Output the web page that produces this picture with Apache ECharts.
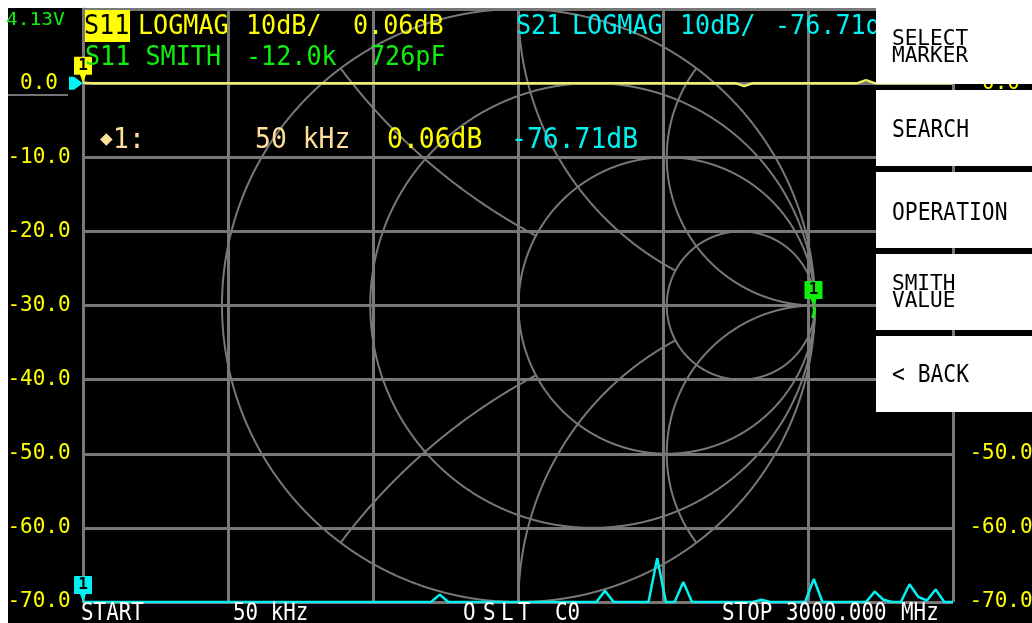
<!DOCTYPE html>
<html>
<head>
<meta charset="utf-8">
<script src="https://cdn.jsdelivr.net/npm/echarts@6/dist/echarts.min.js"></script>
<style>
  html, body { margin: 0; padding: 0; background: #fff; }
  #screen { position: absolute; left: 8px; top: 8px; width: 1024px; height: 615px; background: #000; }
  #chart { position: absolute; left: 0; top: 0; width: 1032px; height: 623px; }
</style>
</head>
<body>
<div id="screen"></div>
<div id="chart"></div>
<script>
// sweep settings
const startMHz = 0.05
const stopMHz = 3000
const points = 101

// S11 LOGMAG (dB), 101 points
const s11Log = [
  0.06, 0, 0, 0, 0, 0, 0, 0, 0, 0,
  0, 0, 0, 0, 0, 0, 0, 0, 0, 0,
  0, 0, 0, 0, 0, 0, 0, 0, 0, 0,
  0, 0, 0, 0, 0, 0, 0, 0, 0, 0,
  0, 0, 0, 0, 0, 0, 0, 0, 0, 0,
  0, 0, 0, 0, 0, 0, 0, 0, 0, 0,
  0, 0, 0, 0, 0, 0, 0, 0, 0, 0,
  0, 0, 0, 0, 0, 0, -0.4, 0, 0, 0,
  0, 0, 0, 0, 0, 0, 0, 0, 0, 0,
  0.4, 0, 0, 0, 0, 0, 0, 0, 0, 0,
  0
]

// S21 LOGMAG (dB) as shown on screen (floor of the graph is -70)
const s21Log = [
  -70, -70, -70, -70, -70, -70, -70, -70, -70, -70,
  -70, -70, -70, -70, -70, -70, -70, -70, -70, -70,
  -70, -70, -70, -70, -70, -70, -70, -70, -70, -70,
  -70, -70, -70, -70, -70, -70, -70, -70, -70, -70,
  -70, -69.0, -70, -70, -70, -70, -70, -70, -70, -70,
  -70, -70, -70, -70, -70, -70, -70, -70, -70, -70,
  -68.5, -70, -70, -70, -70, -70, -64.1, -70, -70, -67.3,
  -70, -70, -70, -70, -70, -70, -70, -70, -69.7, -70,
  -70, -70, -70, -70, -66.9, -70, -70, -70, -70, -70,
  -70, -68.6, -69.7, -70, -70, -67.6, -69.3, -69.8, -68.3, -70,
  -70
]

// S11 SMITH trace (reflection coefficient, re / im)
const s11Gamma = [[0.995, -0.005], [0.998, -0.015], [0.996, -0.028], [0.993, -0.038], [0.99, -0.042]]

// left / right scale labels, from -70 up to 0
const scaleLabels = ['-70.0', '-60.0', '-50.0', '-40.0', '-30.0', '-20.0', '-10.0', '0.0']

const freqs = []
for (let i = 0; i < points; i++) freqs.push(startMHz + i * (stopMHz - startMHz) / (points - 1))

const YEL = '#ffff00', CYAN = '#00f2f2', GRN = '#10ee10', PEACH = '#ffdf9a', GREY = '#787878'
const MONO = '"DejaVu Sans Mono", monospace'

// smith chart grid: circles clipped the same way the analyzer draws them
const smithCircles = [
  { r: 0 }, { r: 3 }, { x: 2 }, { x: -2 },
  { x: 1, clip: 3 }, { x: -1, clip: 3 }, { r: 1, clip: 3 },
  { x: 0.5, clip: 1 }, { x: -0.5, clip: 1 }, { r: 1 / 3, clip: 1 }
]
function rCircle(r) { return { cx: r / (1 + r), cy: 0, rad: 1 / (1 + r) } }
function xCircle(x) { return { cx: 1, cy: 1 / x, rad: 1 / Math.abs(x) } }
function insideR(px, py, r) {
  const c = rCircle(r)
  return Math.hypot(px - c.cx, py - c.cy) < c.rad - 0.003
}
const smithSegs = []
smithCircles.forEach(function (c) {
  const g = c.r !== undefined ? rCircle(c.r) : xCircle(c.x)
  let cur = []
  for (let k = 0; k <= 2880; k++) {
    const a = k / 2880 * Math.PI * 2
    const px = g.cx + g.rad * Math.cos(a), py = g.cy + g.rad * Math.sin(a)
    let keep = Math.hypot(px, py) <= 1.002
    if (keep && c.clip !== undefined && insideR(px, py, c.clip)) keep = false
    if (keep) cur.push([px, py])
    else { if (cur.length > 1) smithSegs.push({ coords: cur }); cur = [] }
  }
  if (cur.length > 1) smithSegs.push({ coords: cur })
})
smithSegs.push({ coords: [[-1, 0], [1, 0]] })

const markerPath = 'path://M1,0H17Q18,0 18,1V18H12L9,26L6,18H0V1Q0,0 1,0Z'
function marker(coord, color) {
  return {
    symbol: markerPath, symbolSize: [18, 26], symbolOffset: [0, '-50%'],
    itemStyle: { color: color },
    label: { show: true, formatter: '1', color: '#000', fontFamily: MONO, fontSize: 16, fontWeight: 'bold', offset: [0, -4] },
    data: [{ coord: coord }]
  }
}

function txt(x, y, s, color, size, sx) {
  return {
    type: 'text', x: x - 2, y: y, scaleX: sx || 1, z: 50,
    style: { text: s, fill: color, font: size + 'px ' + MONO, textAlign: 'left', textVerticalAlign: 'middle' }
  }
}
function button(y, h) {
  return { type: 'rect', shape: { x: 876, y: y, width: 156, height: h }, style: { fill: '#fff' }, z: 90 }
}
function btxt(y, s, size, sx) {
  const t = txt(894, y, s, '#000', size, sx)
  t.z = 91
  return t
}

const chart = echarts.init(document.getElementById('chart'), null, { renderer: 'canvas' })

const option = {
  backgroundColor: 'transparent',
  animation: false,
  grid: [
    { left: 83, top: 9, width: 870, height: 593, containLabel: false, outerBoundsMode: 'none' },
    { left: 222, top: 9, width: 593, height: 593, containLabel: false, outerBoundsMode: 'none' }
  ],
  xAxis: [
    { gridIndex: 0, type: 'value', min: 0, max: 6, interval: 1,
      axisLine: { show: false }, axisTick: { show: false }, axisLabel: { show: false },
      splitLine: { show: true, lineStyle: { color: GREY, width: 3 } } },
    { gridIndex: 0, type: 'value', min: startMHz, max: stopMHz, show: false },
    { gridIndex: 1, type: 'value', min: -1, max: 1, show: false }
  ],
  yAxis: [
    { gridIndex: 0, type: 'value', min: -70, max: 10, interval: 10, position: 'left',
      axisLine: { show: true, lineStyle: { color: GREY, width: 3 } }, axisTick: { show: false },
      splitLine: { show: true, lineStyle: { color: GREY, width: 3 } },
      axisLabel: { color: YEL, fontFamily: MONO, fontSize: 21, align: 'center', margin: 44,
        formatter: function (v) { return scaleLabels[Math.round((v + 70) / 10)] || '' } } },
    { gridIndex: 0, type: 'value', min: -70, max: 10, interval: 10, position: 'right',
      axisLine: { show: false }, axisTick: { show: false }, splitLine: { show: false },
      axisLabel: { color: YEL, fontFamily: MONO, fontSize: 21, align: 'center', margin: 48,
        formatter: function (v) { return scaleLabels[Math.round((v + 70) / 10)] || '' } } },
    { gridIndex: 1, type: 'value', min: -1, max: 1, show: false }
  ],
  series: [
    { type: 'lines', coordinateSystem: 'cartesian2d', xAxisIndex: 2, yAxisIndex: 2, polyline: true, silent: true,
      lineStyle: { color: GREY, width: 2, opacity: 1 }, data: smithSegs, z: 1 },
    { name: 'S11 SMITH', type: 'line', xAxisIndex: 2, yAxisIndex: 2, data: s11Gamma, showSymbol: false,
      lineStyle: { color: GRN, width: 3 }, markPoint: marker(s11Gamma[0], GRN), z: 4 },
    { name: 'S21', type: 'line', xAxisIndex: 1, yAxisIndex: 0,
      data: s21Log.map(function (v, i) { return [freqs[i], v] }), showSymbol: false,
      lineStyle: { color: CYAN, width: 2.5 },
      markPoint: {
        data: [
          Object.assign({ coord: [freqs[0], s21Log[0]] }, marker(null, CYAN), { data: undefined }),
          { coord: [freqs[0], 0], symbol: 'path://M0,0H5L14,7L5,14H0Z', symbolSize: [14, 13], symbolOffset: [-7, 0],
            itemStyle: { color: CYAN }, label: { show: false } }
        ]
      }, z: 3 },
    { name: 'S11', type: 'line', xAxisIndex: 1, yAxisIndex: 0,
      data: s11Log.map(function (v, i) { return [freqs[i], v] }), showSymbol: false,
      lineStyle: { color: '#f2f06a', width: 2.5 },
      markPoint: marker([freqs[0], s11Log[0]], YEL), z: 5 }
  ],
  graphic: [
    { type: 'line', shape: { x1: 8, y1: 95, x2: 68, y2: 95 }, style: { stroke: '#9a9a9a', lineWidth: 1.5 }, z: 50 },
    txt(8, 20.5, '4.13V', GRN, 17, 1.15),
    { type: 'rect', shape: { x: 85, y: 10, width: 45, height: 32 }, style: { fill: YEL }, z: 49 },
    txt(86, 26.5, 'S11', '#000', 27, 0.93),
    txt(140, 26.5, 'LOGMAG', YEL, 27, 0.93),
    txt(248, 26.5, '10dB/', YEL, 27, 0.93),
    txt(355, 26.5, '0.06dB', YEL, 27, 0.93),
    txt(518, 26.5, 'S21', CYAN, 27, 0.93),
    txt(574, 26.5, 'LOGMAG', CYAN, 27, 0.93),
    txt(682, 26.5, '10dB/', CYAN, 27, 0.93),
    txt(777, 26.5, '-76.71dB', CYAN, 27, 0.93),
    txt(87, 57.5, 'S11 SMITH', GRN, 27, 0.93),
    txt(248, 57.5, '-12.0k', GRN, 27, 0.93),
    txt(372, 57.5, '726pF', GRN, 27, 0.93),
    txt(102, 140, '\u25C6', PEACH, 21, 1),
    txt(115, 140, '1:', PEACH, 29, 0.91),
    txt(257, 140, '50 kHz', PEACH, 29, 0.91),
    txt(389, 140, '0.06dB', YEL, 29, 0.91),
    txt(513, 140, '-76.71dB', CYAN, 29, 0.91),
    txt(83, 614, 'START', '#fff', 24, 0.87),
    txt(235, 614, '50 kHz', '#fff', 24, 0.87),
    txt(465, 614, 'O', '#fff', 24, 0.87),
    txt(485, 614, 'S', '#fff', 24, 0.87),
    txt(503, 614, 'L', '#fff', 24, 0.87),
    txt(520, 614, 'T', '#fff', 24, 0.87),
    txt(557, 614, 'C0', '#fff', 24, 0.87),
    txt(724, 614, 'STOP', '#fff', 24, 0.87),
    txt(788, 614, '3000.000', '#fff', 24, 0.87),
    txt(903, 614, 'MHz', '#fff', 24, 0.87),
    // menu
    button(0, 84), button(90, 76), button(172, 76), button(254, 76), button(336, 76),
    btxt(39.5, 'SELECT', 21.5, 0.98),
    btxt(56.5, 'MARKER', 21.5, 0.98),
    btxt(131, 'SEARCH', 24.5, 0.87),
    btxt(214, 'OPERATION', 24.5, 0.87),
    btxt(284, 'SMITH', 21.5, 0.98),
    btxt(301.5, 'VALUE', 21.5, 0.98),
    btxt(375.5, '< BACK', 24.5, 0.87)
  ]
}

chart.setOption(option)
</script>
</body>
</html>
